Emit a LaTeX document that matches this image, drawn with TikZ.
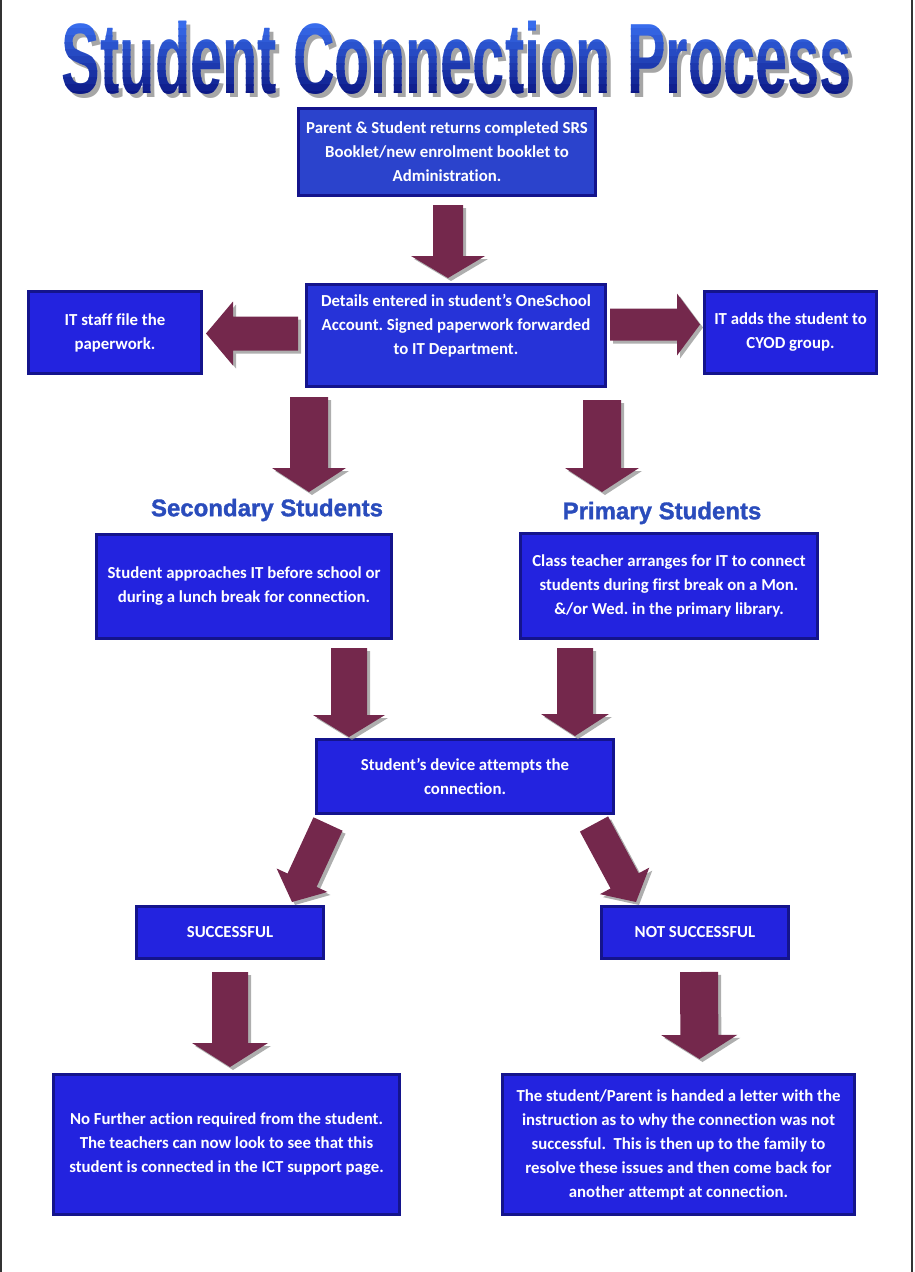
\documentclass[tikz,border=0pt]{standalone}
\usepackage{fontspec}
\setmainfont{Carlito}[Ligatures=NoCommon]
\newfontfamily\titlefont{Liberation Sans}
\newfontfamily\labelfont{Liberation Sans Bold}[FakeBold=1.4]
\usetikzlibrary{calc, shadows, positioning}
\definecolor{boxblue}{HTML}{2323DF}
\definecolor{boxedge}{HTML}{14148C}
\definecolor{topblue}{HTML}{2B43CC}
\definecolor{detailblue}{HTML}{2633D8}
\definecolor{arrowred}{HTML}{74284C}
\definecolor{labelblue}{HTML}{2A4CBC}
\definecolor{titletop}{HTML}{3C74F6}
\definecolor{titlebot}{HTML}{0B1784}

\tikzset{
  stepbox/.style={draw=boxedge, line width=3pt, fill=boxblue, text=white, align=center,
    font=\fontsize{16.8}{24}\selectfont\bfseries, inner sep=0pt},
  fatarrow/.style={fill=arrowred, drop shadow={shadow xshift=3pt, shadow yshift=-3pt, fill=black!45, opacity=0.7}},
  grouplabel/.style={font=\labelfont\fontsize{24}{24}\selectfont, text=labelblue, inner sep=0pt},
  titletext/.style={font=\titlefont\fontsize{100}{100}\selectfont\bfseries, inner sep=0pt}
}

% block arrow: [half shaft/half head/head length]{tail}{tip}
\newcommand{\bigarrow}[3][18pt/37pt/24pt]{%
  \foreach \sw/\hw/\hl in {#1} {
    \coordinate (ba-t) at #2;
    \coordinate (ba-p) at #3;
    \coordinate (ba-h) at ($(ba-p)!\hl!(ba-t)$);
    \path[fatarrow] ($(ba-t)!\sw!90:(ba-p)$) -- ($(ba-h)!\sw!90:(ba-p)$) -- ($(ba-h)!\hw!90:(ba-p)$)
      -- (ba-p) -- ($(ba-h)!\hw!-90:(ba-p)$) -- ($(ba-h)!\sw!-90:(ba-p)$) -- ($(ba-t)!\sw!-90:(ba-p)$) -- cycle;
  }%
}

\begin{document}
\frenchspacing
\begin{tikzpicture}[x=1pt, y=-1pt]
  \useasboundingbox (0,0) rectangle (914,1272);
  \draw[line width=1.5pt, black!80] (1,0) -- (1,1272) (912,0) -- (912,1272);

  % Title
  \node[titletext, text=black!35] (title-shadow) at (461,62) {\scalebox{0.578}[1]{Student Connection Process}};
  \foreach \i in {0,...,11} {
    \pgfmathsetmacro{\mix}{100-\i*9}
    \begin{scope}
      \clip (0,{14+\i*7}) rectangle (914,{22+\i*7});
      \node[titletext, text=titletop!\mix!titlebot] (title-\i) at (457,58) {\scalebox{0.578}[1]{Student Connection Process}};
    \end{scope}
  }

  % Boxes
  \node[stepbox, fill=topblue, minimum width=297, minimum height=87] (returns) at (447,152)
    {Parent \& Student returns completed SRS\\Booklet/new enrolment booklet to\\Administration.};
  \node[stepbox, fill=detailblue, minimum width=299, minimum height=102, text depth=22pt] (details) at (456,335.5)
    {Details entered in student’s OneSchool\\Account. Signed paperwork forwarded\\to IT Department.};
  \node[stepbox, minimum width=173, minimum height=82] (filing) at (115,332.5) {IT staff file the\\paperwork.};
  \node[stepbox, minimum width=172, minimum height=82] (cyod) at (790.5,332.5) {IT adds the student to\\CYOD group.};

  \node[grouplabel] (sec-label) at (267,510) {Secondary Students};
  \node[grouplabel] (pri-label) at (662,513) {Primary Students};

  \node[stepbox, minimum width=295, minimum height=104] (secondary) at (244,586.5)
    {Student approaches IT before school or\\during a lunch break for connection.};
  \node[stepbox, minimum width=297, minimum height=105] (primary) at (669,586)
    {Class teacher arranges for IT to connect\\students during first break on a Mon.\\\&/or Wed. in the primary library.};
  \node[stepbox, minimum width=297, minimum height=74] (device) at (465,776.5)
    {Student’s device attempts the\\connection.};
  \node[stepbox, minimum width=187, minimum height=52] (success) at (230,932.5) {SUCCESSFUL};
  \node[stepbox, minimum width=187, minimum height=52] (fail) at (695,932.5) {NOT SUCCESSFUL};
  \node[stepbox, minimum width=346, minimum height=140] (done) at (226.5,1144.5)
    {No Further action required from the student.\\The teachers can now look to see that this\\student is connected in the ICT support page.};
  \node[stepbox, minimum width=352, minimum height=140] (letter) at (678.5,1144.5)
    {The student/Parent is handed a letter with the\\instruction as to why the connection was not\\successful.\ \ This is then up to the family to\\resolve these issues and then come back for\\another attempt at connection.};

  % Arrows
  \bigarrow[15pt/37pt/22pt]{($(returns.south)+(1,8)$)}{($(returns.south |- details.north)+(1,-5)$)}
  \bigarrow[17pt/32pt/27pt]{($(details.west)+(-7,-2)$)}{($(filing.east)+(3,1)$)}
  \bigarrow[16pt/31pt/23pt]{($(details.east)+(3,-11)$)}{($(cyod.west)+(-3,-8)$)}
  \bigarrow[19pt/37pt/24pt]{($(details.south west)+(4,9)$)}{($(details.south west)+(4,104)$)}
  \bigarrow[19pt/37pt/24pt]{($(details.south east)+(-5,12)$)}{($(details.south east)+(-5,104)$)}
  \bigarrow[18pt/36pt/22pt]{($(secondary.south)+(105,8)$)}{($(device.north)+(-116,-1)$)}
  \bigarrow[18pt/34pt/22pt]{($(primary.south)+(-94,8)$)}{($(device.north)+(110,-2)$)}
  \bigarrow[16pt/28pt/24pt]{($(device.south west)+(13,9)$)}{($(success.north)+(62,-3)$)}
  \bigarrow[16pt/28pt/24pt]{($(device.south east)+(-21,9)$)}{($(fail.north)+(-59,-3)$)}
  \bigarrow[18pt/38pt/24pt]{($(success.south)+(0,12)$)}{($(success.south |- done.north)+(0,-6)$)}
  \bigarrow[19pt/38pt/24pt]{($(fail.south)+(4,12)$)}{($(fail.south -| letter.north)+(21,99)$)}
\end{tikzpicture}
\end{document}
